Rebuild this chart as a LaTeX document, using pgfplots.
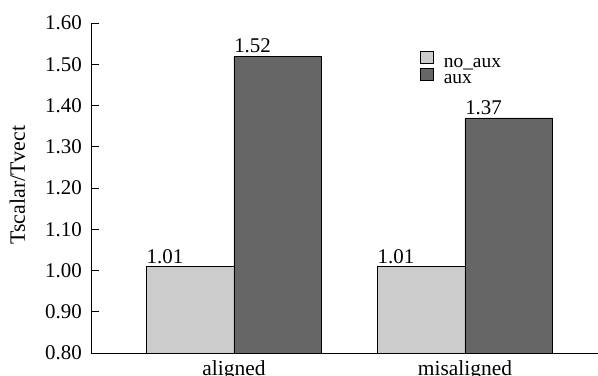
\documentclass[border=0pt]{standalone}
\usepackage{fontspec}
\setmainfont{Liberation Serif}
\usepackage{pgfplots}
\pgfplotsset{compat=1.18}
\definecolor{lightbar}{HTML}{CCCCCC}
\definecolor{darkbar}{HTML}{666666}
\begin{document}
\begin{tikzpicture}
\begin{axis}[
  at={(0,0)}, anchor=south west,
  scale only axis,
  width=507bp, height=330bp,
  xmin=-0.619, xmax=1.576,
  ymin=0.8, ymax=1.6,
  axis x line=bottom, axis y line=left,
  axis line style={-, line width=0.9bp, black},
  xtick={0,1}, xticklabels={aligned, misaligned},
  x tick style={draw=none},
  ytick={0.8,0.9,1.0,1.1,1.2,1.3,1.4,1.5,1.6},
  y tick style={line width=0.9bp, black},
  major tick length=8bp,
  tick align=inside,
  /pgf/number format/fixed,
  /pgf/number format/fixed zerofill,
  /pgf/number format/precision=2,
  /pgf/number format/assume math mode=true,
  yticklabel style={font=\fontsize{21}{24}\selectfont, inner xsep=0pt, xshift=-9bp},
  xticklabel style={font=\fontsize{21.5}{24}\selectfont, inner ysep=7bp},
  ylabel={Tscalar/Tvect},
  ylabel style={font=\fontsize{22}{24}\selectfont, at={(axis description cs:-0.145,0.509)}, anchor=center},
  legend cell align=left,
  legend style={at={(rel axis cs:0.649,0.915)}, anchor=north west, draw=none, fill=none,
    font=\fontsize{19.5}{19.5}\selectfont, inner sep=0pt, row sep=-2bp,
    nodes={inner sep=0pt, text height=12bp, text depth=3bp}},
]
\addplot[ybar, bar width=0.379, bar shift=-0.1895, fill=lightbar, draw=black, line width=0.6bp,
  nodes near coords,
  nodes near coords style={anchor=south west, xshift=-87.6bp, inner xsep=0pt, inner ysep=2.5bp, font=\fontsize{21}{24}\selectfont, black},
  legend image code/.code={\draw[fill=lightbar, draw=black, line width=0.6bp] (0bp,-1bp) rectangle (13bp,11bp); \path (23bp,0bp);}]
  coordinates {(0,1.01) (1,1.01)};
\addplot[ybar, bar width=0.379, bar shift=0.1895, fill=darkbar, draw=black, line width=0.6bp,
  nodes near coords,
  nodes near coords style={anchor=south west, xshift=0bp, inner xsep=0pt, inner ysep=2.5bp, font=\fontsize{21}{24}\selectfont, black},
  legend image code/.code={\draw[fill=darkbar, draw=black, line width=0.6bp] (0bp,-1bp) rectangle (13bp,11bp); \path (23bp,0bp);}]
  coordinates {(0,1.52) (1,1.37)};
\legend{no\_aux, aux}
\end{axis}
\pgfresetboundingbox
\path[use as bounding box] (-91bp,-23bp) rectangle (507bp,353bp);
\end{tikzpicture}
\end{document}
